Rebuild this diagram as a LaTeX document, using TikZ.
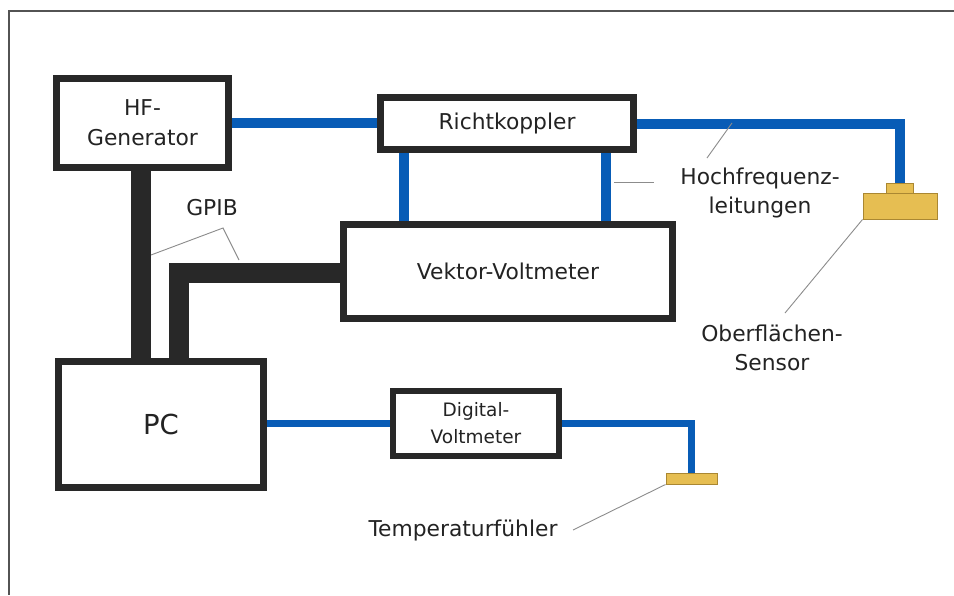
\documentclass[tikz,border=0pt]{standalone}
\usepackage{fontspec}
\setmainfont{DejaVu Sans}
\definecolor{hfblue}{RGB}{8,92,182}
\definecolor{boxline}{RGB}{40,40,40}
\definecolor{txt}{RGB}{35,35,35}
\definecolor{gold}{RGB}{230,190,82}
\definecolor{golddark}{RGB}{170,135,50}
\definecolor{leadgray}{RGB}{140,140,140}
\tikzset{
  devbox/.style={draw=boxline, line width=7pt, fill=white, inner sep=0pt, align=center, text=txt,
    font=\fontsize{21.8}{30}\selectfont},
  devframe/.style={draw=boxline, line width=7pt, inner sep=0pt},
  hf/.style={draw=hfblue, line width=10pt},
  hfthin/.style={draw=hfblue, line width=7pt},
  gpib/.style={draw=boxline, line width=20pt},
  leader/.style={draw=leadgray, line width=0.9pt},
  sensorpart/.style={draw=golddark, fill=gold, line width=1pt, inner sep=0pt},
  lbl/.style={text=txt, align=center, inner sep=0pt, font=\fontsize{21.8}{29}\selectfont},
}
\begin{document}
\begin{tikzpicture}[x=1pt, y=-1pt]
\useasboundingbox[fill=white] (0,0) rectangle (954,595);
% outer frame
\coordinate (frTR) at (954,11);
\coordinate (frTL) at (9,11);
\coordinate (frBL) at (9,595);
\draw[draw=boxline!80, line width=2pt] (frTR) -- (frTL) -- (frBL);

% sensors
\node[sensorpart, minimum width=74pt, minimum height=26pt] (osb) at (900,206) {};
\node[sensorpart, minimum width=27pt, minimum height=10pt] (ost) at (899.5,188) {};
\node[sensorpart, minimum width=51pt, minimum height=11pt] (temp) at (691.5,478.5) {};

% devices
\node[devbox, minimum width=172pt, minimum height=89pt] (hfg) at (142.5,123) {HF-\\Generator};
\node[devbox, minimum width=253pt, minimum height=52pt] (rk) at (507,123.5) {Richtkoppler};
\node[devbox, minimum width=329pt, minimum height=94pt] (vv) at (508,271.5) {Vektor-Voltmeter};
\node[devbox, minimum width=205pt, minimum height=126pt, font=\fontsize{27.5}{32}\selectfont] (pc) at (161,424.5) {PC};
\node[devbox, line width=6pt, minimum width=166pt, minimum height=65pt, font=\fontsize{18.5}{27}\selectfont] (dvm) at (476,423.5) {Digital-\\Voltmeter};

% HF lines
\draw[hf] (hfg.east) -- (hfg.east -| rk.west);
\draw[hf] (rk.east) -| (ost.north);
\draw[hf] ([xshift=26.5pt]rk.south west) -- ([xshift=26.5pt]rk.south west |- vv.north);
\draw[hf] ([xshift=228.5pt]rk.south west) -- ([xshift=228.5pt]rk.south west |- vv.north);
\draw[hfthin] (dvm.west -| pc.east) -- (dvm.west);
\draw[hfthin] (dvm.east) -| (temp.north);

% GPIB
\draw[gpib] ([xshift=-1.5pt]hfg.south) -- ([xshift=-1.5pt]hfg.south |- pc.north);
\draw[gpib] ([yshift=-1.5pt]vv.west) -| ([xshift=123.5pt]pc.north west);

% redraw borders over line ends
\node[devframe, minimum width=172pt, minimum height=89pt] at (hfg) {};
\node[devframe, minimum width=253pt, minimum height=52pt] at (rk) {};
\node[devframe, minimum width=329pt, minimum height=94pt] at (vv) {};
\node[devframe, minimum width=205pt, minimum height=126pt] at (pc) {};
\node[devframe, line width=6pt, minimum width=166pt, minimum height=65pt] at (dvm) {};

% labels
\node[lbl] (gpibl) at (212,208) {GPIB};
\node[lbl] (hfl) at (760,192.5) {Hochfrequenz-\\leitungen};
\node[lbl] (osl) at (772,347.5) {Oberflächen-\\Sensor};
\node[lbl] (tl) at (463,530) {Temperaturfühler};

% leader lines
\coordinate (gA) at (151,255);
\coordinate (gB) at (223,228);
\coordinate (gC) at (239,260);
\draw[leader] (gA) -- (gB) -- (gC);
\coordinate (hA) at (707,158);
\coordinate (hB) at (732,123);
\draw[leader] (hA) -- (hB);
\coordinate (hC) at (614,182);
\coordinate (hD) at (654,182);
\draw[leader] (hC) -- (hD);
\coordinate (oA) at (785,313);
\draw[leader] (oA) -- (osb.south west);
\coordinate (tA) at (573,530);
\draw[leader] (tA) -- (temp.south west);
\end{tikzpicture}
\end{document}
